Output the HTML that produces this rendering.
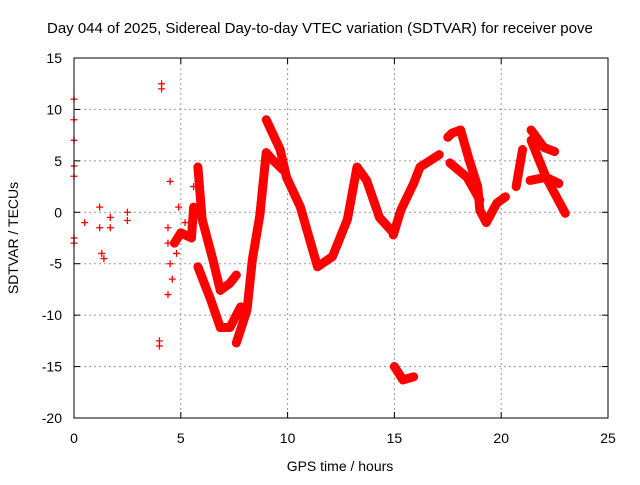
<!DOCTYPE html>
<html><head><meta charset="utf-8"><style>
body{margin:0;background:#fff}
svg text{font-family:"Liberation Sans",sans-serif;font-size:14px;fill:#000}
</style></head><body>
<svg id="c" width="640" height="480" xmlns="http://www.w3.org/2000/svg">
<text x="47" y="33" style="font-size:15px">Day 044 of 2025, Sidereal Day-to-day VTEC variation (SDTVAR) for receiver pove</text>
<text x="340" y="471" text-anchor="middle">GPS time / hours</text>
<text transform="translate(18,238) rotate(-90)" text-anchor="middle">SDTVAR / TECUs</text>
<g id="grid"></g><g id="marks"></g>
<rect x="74" y="58" width="534" height="360" fill="none" stroke="#000"/>
</svg>
<script>
const xTicks=[0,5,10,15,20,25];
const yTicks=[15,10,5,0,-5,-10,-15,-20];
const tracks=[
 [[5.8,4.4],[6.0,-0.7],[6.5,-4.6],[6.85,-7.6],[7.3,-6.9],[7.6,-6.1]],
 [[5.8,-5.3],[6.4,-8.5],[6.85,-11.2],[7.3,-11.2],[7.8,-9.2]],
 [[7.6,-12.7],[8.1,-9.5],[8.35,-4.6],[8.7,-0.3],[9.0,5.8],[9.3,5.1],[9.8,4.1]],
 [[9.0,9.0],[9.65,6.1],[9.95,3.4],[10.6,0.5],[11.4,-5.3],[12.1,-4.3],[12.8,-0.7],[13.25,4.4],[13.7,3.1],[14.3,-0.5],[14.95,-2.0]],
 [[14.95,-2.2],[15.3,0.2],[15.6,1.5],[15.9,2.8],[16.2,4.4],[17.1,5.6]],
 [[17.5,7.3],[17.7,7.7],[18.1,8.0],[18.5,5.1],[18.9,2.5],[19.0,0.2],[19.3,-1.0],[19.8,0.9],[20.2,1.5]],
 [[17.6,4.8],[18.4,3.4],[19.0,1.2]],
 [[20.7,2.5],[21.0,6.1]],
 [[21.4,8.0],[22.0,6.3],[22.5,5.9]],
 [[21.35,3.1],[22.1,3.4],[22.7,2.8]],
 [[21.4,7.0],[22.1,3.4],[23.0,-0.1]],
 [[15.0,-15.0],[15.4,-16.3],[15.9,-16.0]],
 [[4.7,-3.0],[5.0,-2.0],[5.5,-2.5],[5.6,0.5]]
];
const scatter=[[0,11],[0,9],[0,7],[0,4.5],[0,3.5],[0,-2.5],[0,-3],[0.5,-1],[1.2,0.5],[1.2,-1.5],[1.3,-4],[1.4,-4.5],[1.7,-0.5],[1.7,-1.5],[2.5,0],[2.5,-0.8],[4.1,12.5],[4.1,12],[4.0,-12.5],[4.0,-13],[4.4,-1.5],[4.4,-3],[4.5,-5],[4.4,-8],[4.5,3],[4.9,0.5],[5.2,-1],[5.6,2.5],[4.6,-6.5],[4.8,-4]];
const X=t=>74+t*534/25, Y=v=>58+(15-v)*360/35;
const NS='http://www.w3.org/2000/svg';
const g=document.getElementById('grid'), m=document.getElementById('marks');
function mk(p,tag,a){const e=document.createElementNS(NS,tag);for(const k in a)e.setAttribute(k,a[k]);p.appendChild(e);return e;}
xTicks.forEach(t=>{const x=X(t);
 if(t>0&&t<25){const l=mk(g,'line',{x1:x,x2:x,y1:58,y2:418,stroke:'#999','stroke-dasharray':'2,3'});
 
 }
 mk(g,'line',{x1:x,x2:x,y1:418,y2:412,stroke:'#000'});mk(g,'line',{x1:x,x2:x,y1:58,y2:64,stroke:'#000'});
 const tx=mk(g,'text',{x:x,y:443,'text-anchor':'middle'});tx.textContent=t;
 
 });
yTicks.forEach(v=>{const y=Y(v);
 if(v>-20&&v<15){const l=mk(g,'line',{x1:74,x2:608,y1:y,y2:y,stroke:'#999','stroke-dasharray':'2,3'});
 
 }
 mk(g,'line',{x1:74,x2:80,y1:y,y2:y,stroke:'#000'});mk(g,'line',{x1:602,x2:608,y1:y,y2:y,stroke:'#000'});
 const tx=mk(g,'text',{x:62,y:y+5,'text-anchor':'end'});tx.textContent=v;
 
 });
tracks.forEach(tr=>{const pl=mk(m,'polyline',{points:tr.map(p=>X(p[0])+','+Y(p[1])).join(' '),fill:'none',stroke:'#f00','stroke-width':9,'stroke-linejoin':'round','stroke-linecap':'round'});
 
 });
scatter.forEach(p=>{const x=X(p[0]),y=Y(p[1]);
 const pm=mk(m,'path',{d:`M${x-3.5},${y}h7M${x},${y-3.5}v7`,stroke:'#f00','stroke-width':1.3});
 
 });
</script>
</body></html>
